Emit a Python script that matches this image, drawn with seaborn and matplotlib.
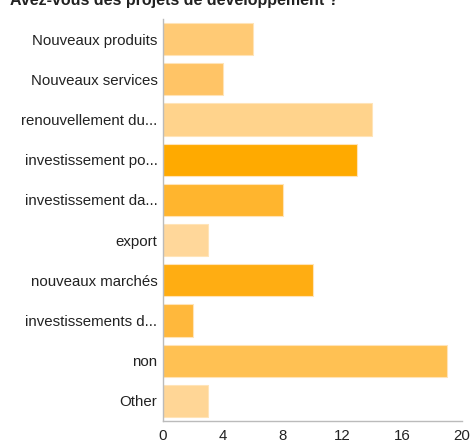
import matplotlib
matplotlib.use("Agg")
import matplotlib.pyplot as plt
import seaborn as sns
import pandas as pd

# réponses
categories = ["Nouveaux produits", "Nouveaux services", "renouvellement du...",
              "investissement po...", "investissement da...", "export",
              "nouveaux marchés", "investissements d...", "non", "Other"]
counts = [6, 4, 14, 13, 8, 3, 10, 2, 19, 3]
colors = ["#FFCA75", "#FFC466", "#FFD38C", "#FFAA00", "#FFB52E",
          "#FFD79A", "#FFAD12", "#FFB83C", "#FFC153", "#FFD696"]

df = pd.DataFrame({"reponse": categories, "nombre": counts})

sns.set_style("white")
plt.rcParams['font.family'] = ['Liberation Sans', 'DejaVu Sans']

fig = plt.figure(figsize=(4.72, 4.40), dpi=100)
ax = fig.add_axes([163 / 472, 19 / 440, 299 / 472, 402 / 440])

sns.barplot(data=df, y="reponse", x="nombre", hue="reponse", palette=colors,
            legend=False, width=0.8, saturation=1, ax=ax,
            edgecolor="#FFE4B8", linewidth=0.8)

ax.set_xlim(0, 20)
ax.set_xticks([0, 4, 8, 12, 16, 20])
ax.set_xlabel("")
ax.set_ylabel("")
for s in ["top", "right"]:
    ax.spines[s].set_visible(False)
for s in ["left", "bottom"]:
    ax.spines[s].set_color("#BBBBBB")
    ax.spines[s].set_linewidth(1)
ax.tick_params(axis="both", length=4, width=1, color="#BBBBBB",
               labelsize=10.8, labelcolor="#222222")
ax.tick_params(axis="y", pad=0)
ax.tick_params(axis="x", pad=2)

fig.text(0.022, 1.0, "Avez-vous des projets de développement ?", fontsize=11.5,
         fontweight="bold", va="center", ha="left", color="#222222")

fig.savefig("out.png", dpi=100)
